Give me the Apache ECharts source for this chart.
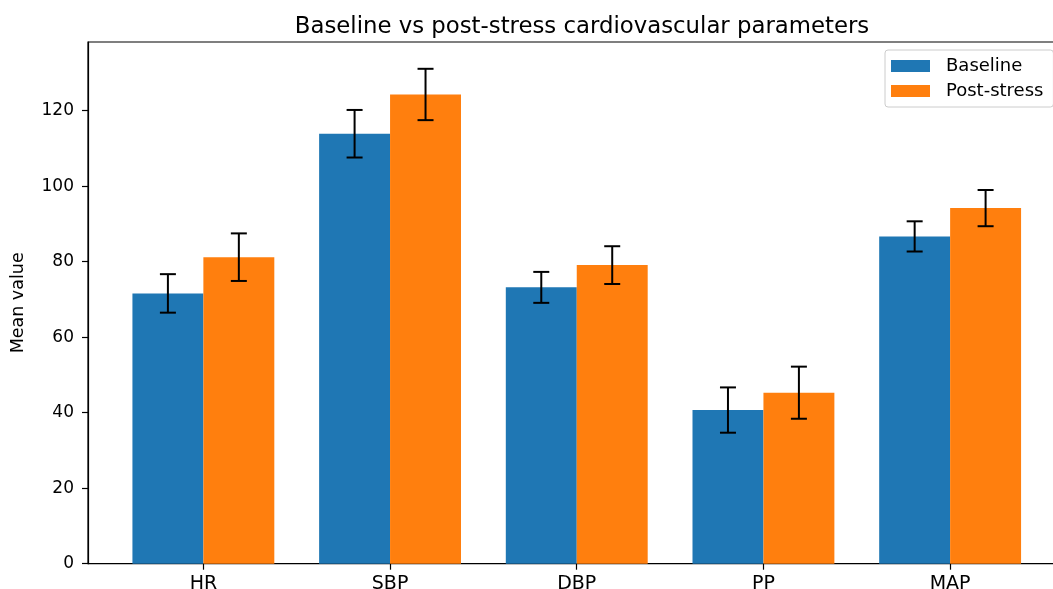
<!DOCTYPE html>
<html>
<head>
<meta charset="utf-8">
<script src="https://cdn.jsdelivr.net/npm/echarts@6/dist/echarts.min.js"></script>
<style>
html,body{margin:0;padding:0;background:#fff;overflow:hidden;width:1053px;height:589px;}
#chart{width:1070px;height:589px;}
</style>
</head>
<body>
<div id="chart"></div>
<script>
const categories = ['HR', 'SBP', 'DBP', 'PP', 'MAP'];
const baselineMean = [71.6, 113.9, 73.2, 40.7, 86.7];
const baselineErr = [5.1, 6.3, 4.1, 6.0, 4.0];
const postMean = [81.2, 124.3, 79.1, 45.3, 94.2];
const postErr = [6.3, 6.8, 5.0, 6.9, 4.8];
const yTicks = [0, 20, 40, 60, 80, 100, 120];

const BAR_W = 0.38;
const FONT = 'DejaVu Sans';

function makeData(means, errs) {
  return means.map((m, i) => [i, m, errs[i]]);
}

function renderer(offset, color) {
  return function (params, api) {
    const i = api.value(0), v = api.value(1), e = api.value(2);
    const c = i + offset;
    const a = api.coord([c - BAR_W / 2, v]);
    const b = api.coord([c + BAR_W / 2, 0]);
    const t = api.coord([c, v + e]);
    const d = api.coord([c, v - e]);
    const cap = 8;
    return {
      type: 'group',
      children: [
        { type: 'rect', shape: { x: a[0], y: a[1], width: b[0] - a[0], height: b[1] - a[1] },
          style: { fill: color } },
        { type: 'line', shape: { x1: t[0], y1: t[1], x2: d[0], y2: d[1] },
          style: { stroke: '#000', lineWidth: 2 } },
        { type: 'line', shape: { x1: t[0] - cap, y1: t[1], x2: t[0] + cap, y2: t[1] },
          style: { stroke: '#000', lineWidth: 2 } },
        { type: 'line', shape: { x1: d[0] - cap, y1: d[1], x2: d[0] + cap, y2: d[1] },
          style: { stroke: '#000', lineWidth: 2 } }
      ]
    };
  };
}

const chart = echarts.init(document.getElementById('chart'), null, { renderer: 'canvas' });
chart.setOption({
  animation: false,
  backgroundColor: '#fff',
  textStyle: { fontFamily: FONT },
  title: {
    text: 'Baseline vs post-stress cardiovascular parameters',
    left: 577, top: 11, textAlign: 'center',
    textStyle: { fontFamily: FONT, fontSize: 22.8, fontWeight: 'normal', color: '#000' }
  },
  legend: {
    orient: 'vertical',
    left: 885, top: 50,
    padding: [7, 10, 7, 6],
    itemWidth: 39, itemHeight: 12, itemGap: 7,
    icon: 'rect',
    backgroundColor: '#fff',
    borderColor: '#cccccc', borderWidth: 1, borderRadius: 3,
    textStyle: { fontFamily: FONT, fontSize: 18, color: '#000', padding: [0, 0, 0, 11] },
    data: ['Baseline', 'Post-stress']
  },
  grid: { left: 88, top: 42, width: 977.5, height: 521.7, outerBoundsMode: 'none', containLabel: false,
    show: true, borderColor: '#000', borderWidth: 1.2 },
  xAxis: {
    type: 'value', min: -0.618, max: 4.618,
    axisLine: { show: true, onZero: false, lineStyle: { color: '#000', width: 1.2 } },
    axisTick: { show: true, customValues: [0, 1, 2, 3, 4], length: 6, lineStyle: { color: '#000', width: 1.2 } },
    axisLabel: { customValues: [0, 1, 2, 3, 4], formatter: v => categories[Math.round(v)],
      fontFamily: FONT, fontSize: 19, color: '#000', margin: 11 },
    splitLine: { show: false }
  },
  yAxis: {
    type: 'value', min: 0, max: 138.2,
    name: 'Mean value', nameLocation: 'middle', nameGap: 61,
    nameTextStyle: { fontFamily: FONT, fontSize: 17.5, color: '#000' },
    axisLine: { show: true, onZero: false, lineStyle: { color: '#000', width: 1.2 } },
    axisTick: { show: true, customValues: yTicks, length: 6, lineStyle: { color: '#000', width: 1.2 } },
    axisLabel: { customValues: yTicks, fontFamily: FONT, fontSize: 17, color: '#000', margin: 14 },
    splitLine: { show: false }
  },
  series: [
    { name: 'Baseline', type: 'custom', itemStyle: { color: '#1f77b4' },
      renderItem: renderer(-BAR_W / 2, '#1f77b4'), data: makeData(baselineMean, baselineErr),
      encode: { x: 0, y: 1 }, z: 2 },
    { name: 'Post-stress', type: 'custom', itemStyle: { color: '#ff7f0e' },
      renderItem: renderer(BAR_W / 2, '#ff7f0e'), data: makeData(postMean, postErr),
      encode: { x: 0, y: 1 }, z: 2 }
  ]
});
</script>
</body>
</html>
